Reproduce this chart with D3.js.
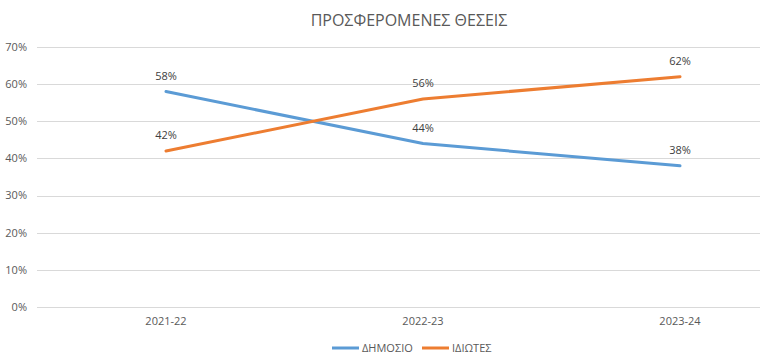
<!DOCTYPE html>
<meta charset="utf-8">
<style>
    body { margin: 0; background: #fff; }
    text { font-family: "Open Sans", "Liberation Sans", sans-serif; }
    .grid line { stroke: #d9d9d9; stroke-width: 1px; }
    .axis text { fill: #595959; font-size: 11px; }
    .lbl { fill: #404040; font-size: 11px; }
</style>
<svg width="761" height="362"></svg>
<script src="https://d3js.org/d3.v7.min.js"></script>
<script>

    var years = ["2021-22", "2022-23", "2023-24"];
    var dimosio = [0.58, 0.44, 0.38];
    var idiotes = [0.42, 0.56, 0.62];
    var yTicks = [0, 0.1, 0.2, 0.3, 0.4, 0.5, 0.6, 0.7];

    var series = [
        {name: "ΔΗΜΟΣΙΟ", values: dimosio, color: "#5b9bd5"},
        {name: "ΙΔΙΩΤΕΣ", values: idiotes, color: "#ed7d31"}
    ];

    var svg = d3.select("svg");

    var x = d3.scaleBand().domain(years).range([37.5, 808.5]);
    var y = d3.scaleLinear().domain([0, 0.7]).range([307, 47]);
    var fmt = d3.format(".0%");

    // grid
    svg.append("g").attr("class", "grid")
        .selectAll("line").data(yTicks).enter().append("line")
        .attr("x1", 37).attr("x2", 760)
        .attr("y1", function (d) { return Math.round(y(d)) + 0.5; })
        .attr("y2", function (d) { return Math.round(y(d)) + 0.5; });

    // y axis labels
    svg.append("g").attr("class", "axis")
        .selectAll("text").data(yTicks).enter().append("text")
        .attr("x", 27).attr("y", function (d) { return y(d); })
        .attr("dy", "0.35em").attr("text-anchor", "end")
        .text(fmt);

    // x axis labels
    svg.append("g").attr("class", "axis")
        .selectAll("text").data(years).enter().append("text")
        .attr("x", function (d) { return x(d) + x.bandwidth() / 2; })
        .attr("y", 325).attr("text-anchor", "middle")
        .text(function (d) { return d; });

    var line = d3.line()
        .x(function (d, i) { return x(years[i]) + x.bandwidth() / 2; })
        .y(function (d) { return y(d); });

    svg.append("g").selectAll("path").data(series).enter().append("path")
        .attr("fill", "none")
        .attr("stroke", function (d) { return d.color; })
        .attr("stroke-width", 3)
        .attr("stroke-linecap", "round")
        .attr("stroke-linejoin", "round")
        .attr("d", function (d) { return line(d.values); });

    // data labels
    series.forEach(function (s) {
        svg.append("g").selectAll("text").data(s.values).enter().append("text")
            .attr("class", "lbl")
            .attr("x", function (d, i) { return x(years[i]) + x.bandwidth() / 2; })
            .attr("y", function (d) { return y(d) - 12; })
            .attr("text-anchor", "middle")
            .text(fmt);
    });

    // title
    svg.append("text")
        .attr("x", 409).attr("y", 26)
        .attr("text-anchor", "middle")
        .attr("fill", "#595959")
        .style("font-size", "16px")
        .text("ΠΡΟΣΦΕΡΟΜΕΝΕΣ ΘΕΣΕΙΣ");

    // legend
    var legX = [332, 422];
    var leg = svg.append("g").selectAll("g").data(series).enter().append("g")
        .attr("transform", function (d, i) { return "translate(" + legX[i] + ",348)"; });
    leg.append("line")
        .attr("x1", 0).attr("x2", 27)
        .attr("stroke", function (d) { return d.color; })
        .attr("stroke-width", 3);
    leg.append("text")
        .attr("x", 30).attr("dy", "0.35em")
        .attr("fill", "#595959").style("font-size", "11px")
        .text(function (d) { return d.name; });

</script>
